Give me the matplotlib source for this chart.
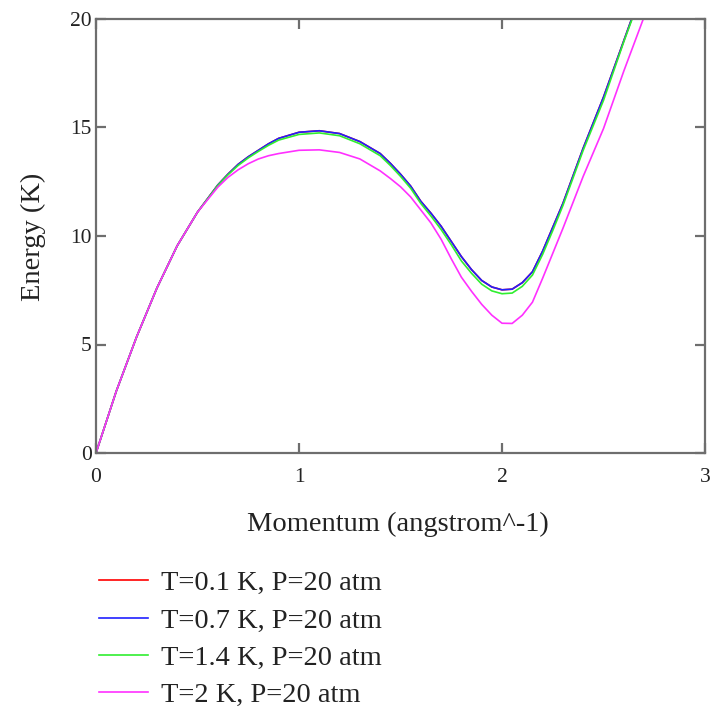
import matplotlib
matplotlib.use("Agg")
from matplotlib import pyplot as plt

# momentum grid (angstrom^-1)
momentum = [0.0, 0.1, 0.2, 0.3, 0.4, 0.5, 0.6, 0.65, 0.7, 0.75, 0.8, 0.85, 0.9,
            1.0, 1.1, 1.2, 1.3, 1.4, 1.45, 1.5, 1.55, 1.6, 1.65, 1.7, 1.75,
            1.8, 1.85, 1.9, 1.95, 2.0, 2.05, 2.1, 2.15, 2.2, 2.25, 2.3, 2.4,
            2.5, 2.6, 2.7]

# energy (K)
e_01 = [0.0, 2.85, 5.35, 7.6, 9.55, 11.1, 12.35, 12.85, 13.3, 13.65, 13.95, 14.25,
        14.5, 14.78, 14.85, 14.72, 14.35, 13.8, 13.35, 12.85, 12.3, 11.6, 11.05,
        10.45, 9.75, 9.05, 8.45, 7.95, 7.65, 7.52, 7.55, 7.85, 8.35, 9.3, 10.4,
        11.5, 14.05, 16.4, 19.0, 21.6]
e_07 = [0.0, 2.85, 5.35, 7.6, 9.55, 11.1, 12.35, 12.85, 13.3, 13.65, 13.95, 14.25,
        14.5, 14.78, 14.85, 14.72, 14.35, 13.8, 13.35, 12.85, 12.3, 11.6, 11.05,
        10.45, 9.75, 9.05, 8.45, 7.95, 7.65, 7.52, 7.55, 7.85, 8.35, 9.3, 10.4,
        11.5, 14.05, 16.4, 19.0, 21.6]
e_14 = [0.0, 2.85, 5.35, 7.6, 9.55, 11.1, 12.33, 12.82, 13.25, 13.6, 13.9, 14.18,
        14.42, 14.68, 14.75, 14.62, 14.25, 13.7, 13.25, 12.75, 12.2, 11.5, 10.92,
        10.3, 9.6, 8.85, 8.28, 7.78, 7.47, 7.34, 7.37, 7.68, 8.2, 9.15, 10.25,
        11.4, 13.95, 16.25, 18.95, 21.5]
e_20 = [0.0, 2.85, 5.35, 7.6, 9.55, 11.1, 12.25, 12.7, 13.05, 13.33, 13.55, 13.7,
        13.8, 13.95, 13.97, 13.85, 13.55, 13.0, 12.65, 12.27, 11.8, 11.2, 10.6,
        9.85, 8.95, 8.1, 7.45, 6.85, 6.35, 5.98, 5.97, 6.35, 6.95, 8.05, 9.2,
        10.35, 12.75, 14.95, 17.6, 20.1]

labels = ["T=0.1 K, P=20 atm", "T=0.7 K, P=20 atm",
          "T=1.4 K, P=20 atm", "T=2 K, P=20 atm"]
colors = ["#ff0000", "#2020ff", "#30ee30", "#ff30ff"]

plt.rcParams['font.family'] = ['Liberation Serif', 'DejaVu Serif']

fig = plt.figure(figsize=(7.13, 7.08), dpi=100)
ax = fig.add_axes([96 / 713, 1 - 453 / 708, 609 / 713, 434 / 708])

for e, lab, c in zip([e_01, e_07, e_14, e_20], labels, colors):
    ax.plot(momentum, e, color=c, lw=1.2, label=lab)

ax.set_xlim(0, 3)
ax.set_ylim(0, 20)
ax.set_xticks([0, 1, 2, 3])
ax.set_yticks([0, 5, 10, 15, 20])

for s in ax.spines.values():
    s.set_color("#6e6e6e")
    s.set_linewidth(1.6)
ax.tick_params(direction="in", length=7, width=1.6, color="#6e6e6e",
               top=True, right=True, labelsize=15.5, labelcolor="#222222")
ax.tick_params(axis="x", pad=11)
ax.tick_params(axis="y", pad=3)

fig.text(398 / 713, 1 - 524 / 708, "Momentum (angstrom^-1)", ha="center",
         va="center", fontsize=20.5, color="#222222")
fig.text(33 / 713, 1 - 237 / 708, "Energy (K)", ha="center", va="center",
         rotation=90, fontsize=20.5, color="#222222")

leg = fig.legend(loc="upper left", bbox_to_anchor=(88 / 713, 1 - 559 / 708),
                 frameon=False, fontsize=20.5, handlelength=1.7,
                 handletextpad=0.45, labelspacing=0.40, borderaxespad=0)
for t in leg.get_texts():
    t.set_color("#222222")

fig.savefig("out.png", dpi=100)
